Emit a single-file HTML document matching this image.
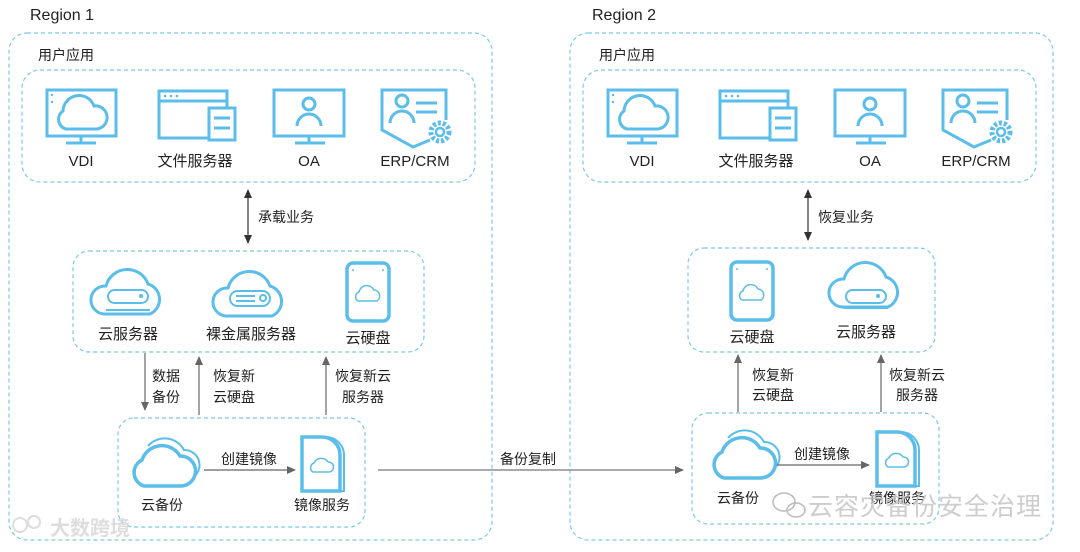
<!DOCTYPE html>
<html><head><meta charset="utf-8">
<style>
html,body{margin:0;padding:0;background:#fff;}
svg{display:block;font-family:"Liberation Sans","Noto Sans CJK SC",sans-serif;}
</style></head>
<body>
<svg width="1080" height="552" viewBox="0 0 1080 552" xmlns="http://www.w3.org/2000/svg">
<defs>
<marker id="ah" markerWidth="10" markerHeight="10" refX="8" refY="4" orient="auto" markerUnits="userSpaceOnUse">
<path d="M0,0 L9,4 L0,8 Z" fill="#333"/></marker>
<marker id="ahg" markerWidth="10" markerHeight="10" refX="8" refY="4" orient="auto" markerUnits="userSpaceOnUse">
<path d="M0,0 L9,4 L0,8 Z" fill="#666"/></marker>
<marker id="ahs" markerWidth="10" markerHeight="10" refX="1" refY="4" orient="auto" markerUnits="userSpaceOnUse">
<path d="M9,0 L0,4 L9,8 Z" fill="#333"/></marker>
<g id="top">
  <rect x="9" y="33" width="483" height="507" rx="18" fill="none" stroke="#7cc8ea" stroke-width="1.2" stroke-dasharray="4,3"/>
  <rect x="22" y="70" width="453" height="112" rx="18" fill="none" stroke="#7cc8ea" stroke-width="1.2" stroke-dasharray="4,3"/>
  <g fill="none" stroke="#5bbde9" stroke-width="3">
    <!-- VDI -->
    <rect x="47" y="90" width="69" height="46"/>
    <line x1="81" y1="136" x2="81" y2="142"/><line x1="66" y1="143" x2="96" y2="143"/>
    <path d="M66,129 A10,10 0 0 1 63,111 A16,16 0 0 1 94,106 A11,11 0 0 1 97,129 Z"/>
    <!-- file -->
    <rect x="159" y="91" width="68" height="47"/>
    <line x1="159" y1="101" x2="227" y2="101"/>
    <rect x="209" y="108" width="26" height="32" fill="#fff"/>
    <line x1="214" y1="118" x2="230" y2="118"/><line x1="214" y1="128" x2="230" y2="128"/>
    <!-- OA -->
    <rect x="274" y="90" width="70" height="46"/>
    <line x1="309" y1="136" x2="309" y2="142"/><line x1="295" y1="143" x2="325" y2="143"/>
    <circle cx="309" cy="104" r="6"/>
    <path d="M297,126 A12,12 0 0 1 321,126"/>
    <!-- ERP -->
    <path d="M446,120 L446,90 L382,90 L382,130 L413,147 L430,140"/>
    <circle cx="402" cy="101" r="6"/>
    <path d="M390,123 A12,12 0 0 1 414,123"/>
    <line x1="416" y1="103" x2="437" y2="103"/><line x1="416" y1="112" x2="437" y2="112"/>
    <circle cx="440" cy="132" r="9" stroke-dasharray="3,2" stroke-width="5" fill="#fff"/>
    <circle cx="440" cy="132" r="4" stroke-width="2.5"/>
  </g>
  <g fill="#5bbde9"><circle cx="52" cy="95" r="1.2"/><circle cx="52" cy="102" r="1.2"/>
  <circle cx="165" cy="96" r="1.3"/><circle cx="171" cy="96" r="1.3"/><circle cx="177" cy="96" r="1.3"/></g>
  <g font-size="15" fill="#222" text-anchor="middle">
    <text x="81" y="166">VDI</text>
    <text x="195" y="166">文件服务器</text>
    <text x="309" y="166">OA</text>
    <text x="415" y="166">ERP/CRM</text>
  </g>
  <text x="38" y="60" font-size="14" fill="#222">用户应用</text>
</g>
<g id="srv">
  <path d="M-24,24 A14,14 0 0 1 -22,-4 A22,22 0 0 1 20,-6 A16,16 0 0 1 22,24 Z" fill="none" stroke="#5bbde9" stroke-width="3"/>
</g>
<g id="disk" fill="none" stroke="#5bbde9">
  <rect x="-21" y="0" width="42" height="58" rx="6" stroke-width="3.5"/>
  <path d="M-10,38 A5,5 0 0 1 -9,29 A8,8 0 0 1 6,27 A6,6 0 0 1 9,38 Z" stroke-width="1.5"/>
  <circle cx="-15" cy="7" r="1" fill="#5bbde9" stroke="none"/><circle cx="15" cy="7" r="1" fill="#5bbde9" stroke="none"/>
</g>
<g id="img" fill="none" stroke="#5bbde9">
  <path d="M6,0 L26,0 A18,18 0 0 1 44,18 L44,54 L6,54 Z" stroke-width="2"/>
  <path d="M2,0 L22,0 A18,18 0 0 1 40,18 L40,54 L2,54 Z" fill="#fff" stroke-width="3.5"/>
  <path d="M13,35 A5,5 0 0 1 14,26 A8,8 0 0 1 28,25 A5,5 0 0 1 29,35 Z" stroke-width="1.5"/>
</g>
<g id="bak" fill="none" stroke="#5bbde9">
  <path d="M-12,-2 A22,22 0 0 1 24,2 A14,14 0 0 1 25,32" stroke-width="2"/>
  <path d="M-16,38 A14,14 0 0 1 -18,12 A21,21 0 0 1 20,8 A15,15 0 0 1 21,38 Z" fill="#fff" stroke-width="3.5"/>
</g>
</defs>

<text x="30" y="20" font-size="16" fill="#222">Region 1</text>
<text x="592" y="20" font-size="16" fill="#222">Region 2</text>
<use href="#top"/>
<use href="#top" transform="translate(561,0)"/>

<!-- R1 compute -->
<rect x="73" y="251" width="351" height="101" rx="16" fill="none" stroke="#7cc8ea" stroke-width="1.2" stroke-dasharray="4,3"/>
<g transform="translate(128,290)"><use href="#srv"/></g>
<g fill="none" stroke="#5bbde9" stroke-width="2"><rect x="108" y="290" width="40" height="13" rx="6.5"/><line x1="106" y1="310" x2="150" y2="310"/><rect x="230" y="291" width="40" height="15" rx="7.5"/><line x1="236" y1="296" x2="255" y2="296"/><line x1="236" y1="301" x2="255" y2="301"/><circle cx="263" cy="298" r="3"/></g>
<circle cx="141" cy="296" r="2" fill="#5bbde9"/>
<g transform="translate(250,292)"><use href="#srv"/></g>
<g transform="translate(368,263)"><use href="#disk"/></g>
<g font-size="15" fill="#222" text-anchor="middle">
<text x="128" y="339">云服务器</text><text x="251" y="339">裸金属服务器</text><text x="368" y="343">云硬盘</text></g>

<!-- R1 arrows -->
<line x1="248" y1="190" x2="248" y2="243" stroke="#333" stroke-width="1.2" marker-end="url(#ah)" marker-start="url(#ahs)"/>
<text x="258" y="222" font-size="14" fill="#222">承载业务</text>
<line x1="145" y1="353" x2="145" y2="410" stroke="#666" stroke-width="1.2" marker-end="url(#ahg)"/>
<line x1="199" y1="415" x2="199" y2="357" stroke="#666" stroke-width="1.2" marker-end="url(#ahg)"/>
<line x1="326" y1="415" x2="326" y2="357" stroke="#666" stroke-width="1.2" marker-end="url(#ahg)"/>
<g font-size="14" fill="#222">
<text x="152" y="381">数据</text><text x="152" y="402">备份</text>
<text x="213" y="381">恢复新</text><text x="213" y="402">云硬盘</text>
<text x="335" y="381">恢复新云</text><text x="342" y="402">服务器</text></g>

<!-- R1 backup -->
<rect x="118" y="418" width="247" height="109" rx="16" fill="none" stroke="#7cc8ea" stroke-width="1.2" stroke-dasharray="4,3"/>
<g transform="translate(160,448)"><use href="#bak"/></g>
<g transform="translate(300,437)"><use href="#img"/></g>
<line x1="204" y1="470" x2="295" y2="470" stroke="#666" stroke-width="1.2" marker-end="url(#ahg)"/>
<g font-size="14" fill="#222" text-anchor="middle">
<text x="249" y="464">创建镜像</text>
<text x="162" y="510">云备份</text><text x="322" y="510">镜像服务</text></g>

<!-- cross -->
<line x1="378" y1="470" x2="683" y2="470" stroke="#777" stroke-width="1.2" marker-end="url(#ahg)"/>
<text x="500" y="464" font-size="14" fill="#222">备份复制</text>

<!-- R2 compute -->
<rect x="688" y="248" width="247" height="104" rx="16" fill="none" stroke="#7cc8ea" stroke-width="1.2" stroke-dasharray="4,3"/>
<g transform="translate(752,262)"><use href="#disk"/></g>
<g transform="translate(866,283)"><use href="#srv"/></g>
<g fill="none" stroke="#5bbde9" stroke-width="2"><rect x="846" y="290" width="40" height="13" rx="6.5"/><line x1="844" y1="308" x2="888" y2="308"/></g>
<circle cx="878" cy="296" r="2" fill="#5bbde9"/>
<g font-size="15" fill="#222" text-anchor="middle">
<text x="752" y="342">云硬盘</text><text x="866" y="337">云服务器</text></g>
<line x1="808" y1="190" x2="808" y2="240" stroke="#333" stroke-width="1.2" marker-end="url(#ah)" marker-start="url(#ahs)"/>
<text x="818" y="222" font-size="14" fill="#222">恢复业务</text>
<line x1="738" y1="412" x2="738" y2="355" stroke="#666" stroke-width="1.2" marker-end="url(#ahg)"/>
<line x1="881" y1="412" x2="881" y2="355" stroke="#666" stroke-width="1.2" marker-end="url(#ahg)"/>
<g font-size="14" fill="#222">
<text x="752" y="380">恢复新</text><text x="752" y="400">云硬盘</text>
<text x="889" y="380">恢复新云</text><text x="896" y="400">服务器</text></g>

<!-- R2 backup -->
<rect x="692" y="413" width="247" height="111" rx="16" fill="none" stroke="#7cc8ea" stroke-width="1.2" stroke-dasharray="4,3"/>
<g transform="translate(740,440)"><use href="#bak"/></g>
<g transform="translate(875,432)"><use href="#img"/></g>
<line x1="777" y1="465" x2="869" y2="465" stroke="#666" stroke-width="1.2" marker-end="url(#ahg)"/>
<g font-size="14" fill="#222" text-anchor="middle">
<text x="822" y="459">创建镜像</text>
<text x="738" y="503">云备份</text><text x="897" y="503">镜像服务</text></g>

<!-- watermarks -->
<g fill="none" stroke="#bbb" stroke-width="1.5">
<ellipse cx="784" cy="502" rx="11" ry="9"/><ellipse cx="796" cy="510" rx="9" ry="7"/></g>
<text x="808" y="515" font-size="25" fill="#c8c8c8" fill-opacity="0.9" letter-spacing="1">云容灾备份安全治理</text>
<g fill="none" stroke="#ddd" stroke-width="2"><circle cx="20" cy="525" r="7"/><circle cx="34" cy="522" r="6"/></g>
<text x="50" y="535" font-size="20" fill="#ddd" font-weight="bold">大数跨境</text>
</svg>
</body></html>
